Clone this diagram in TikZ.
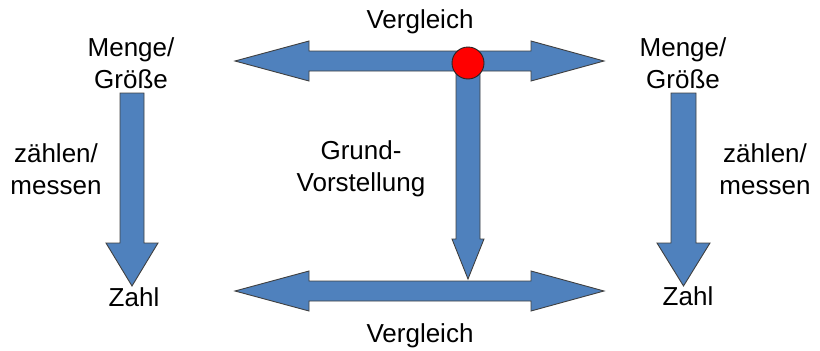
\documentclass[tikz,border=0pt]{standalone}
\usepackage{fontspec}
\setmainfont{Liberation Sans}
\usepackage{xcolor}
\definecolor{arrowblue}{HTML}{4F81BD}

\begin{document}
\begin{tikzpicture}[x=1pt, y=-1pt,
  blockarr/.style={draw=black!75, fill=arrowblue, line width=0.9pt, line join=miter},
  lbl/.style={inner sep=0pt, align=center, font=\fontsize{26}{32}\selectfont},
  reddot/.style={circle, draw=black!85, fill=red, line width=0.9pt,
                 minimum size=32pt, inner sep=0pt}
]
\useasboundingbox (0,0) rectangle (820,351);
%% Labels
\node[lbl, anchor=base] (vtop) at (420,28) {Vergleich};
\node[lbl, anchor=base] (vbot) at (420,342) {Vergleich};
\node[lbl] (mleft)  at (131,63) {Menge/\\Größe};
\node[lbl] (mright) at (683,63) {Menge/\\Größe};
\node[lbl] (cleft)  at (56,169) {zählen/\\messen};
\node[lbl] (cright) at (765,169) {zählen/\\messen};
\node[lbl] (grund)  at (361,169) {Grund-\\Vorstellung};
\node[lbl, anchor=base] (zleft)  at (134,306) {Zahl};
\node[lbl, anchor=base] (zright) at (688,305) {Zahl};
%% Comparison arrows
\draw[blockarr] (235,61) -- (309,41) -- (309,51) -- (531,51) -- (531,41) -- (604,61)
  -- (531,81) -- (531,71) -- (309,71) -- (309,81) -- cycle;
\draw[blockarr] (235,291) -- (309,271) -- (309,281) -- (531,281) -- (531,271) -- (604,291)
  -- (531,311) -- (531,301) -- (309,301) -- (309,311) -- cycle;
%% Counting / measuring arrows
\draw[blockarr] (120,93) -- (144,93) -- (144,243) -- (158,243) -- (132,286) -- (106,243)
  -- (120,243) -- cycle;
\draw[blockarr] (671,93) -- (696,93) -- (696,243) -- (710,243) -- (683.5,286) -- (657,243)
  -- (671,243) -- cycle;
%% Grundvorstellung arrow with red dot
\draw[blockarr] (456,63) -- (480,63) -- (480,239) -- (484,239) -- (468,279) -- (452,239)
  -- (456,239) -- cycle;
\node[reddot] (dot) at (468,63) {};
\end{tikzpicture}
\end{document}
